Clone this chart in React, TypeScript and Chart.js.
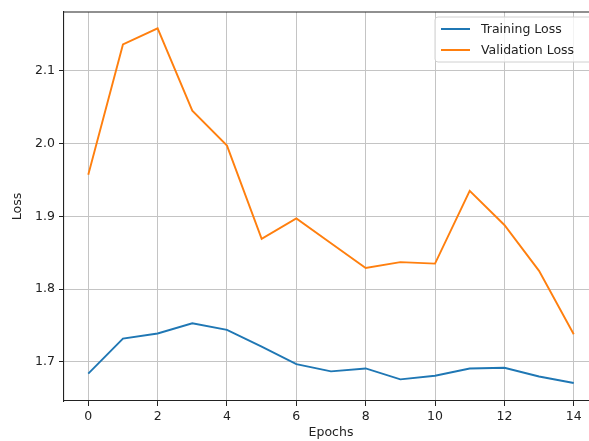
import React, { useEffect, useRef, useState } from "react";
import { Chart, registerables } from "chart.js";

Chart.register(...registerables);

const epochs = [0, 1, 2, 3, 4, 5, 6, 7, 8, 9, 10, 11, 12, 13, 14];
const trainingLoss = [1.684, 1.732, 1.739, 1.753, 1.744, 1.721, 1.697, 1.687, 1.691, 1.676, 1.681, 1.691, 1.692, 1.68, 1.671];
const validationLoss = [1.957, 2.136, 2.158, 2.045, 1.997, 1.869, 1.897, 1.863, 1.829, 1.837, 1.835, 1.935, 1.888, 1.825, 1.738];
const xTicks = [0, 2, 4, 6, 8, 10, 12, 14];
const yTicks = [1.7, 1.8, 1.9, 2.0, 2.1];

const W = 600;
const H = 445;
const FONT = "'DejaVu Sans', sans-serif";

const frameAndLegend = {
  id: "frameAndLegend",
  afterDatasetsDraw(chart: any) {
    const { ctx, chartArea } = chart;
    ctx.save();
    // top spine
    ctx.strokeStyle = "#222";
    ctx.lineWidth = 1.1;
    ctx.beginPath();
    ctx.moveTo(chartArea.left, chartArea.top);
    ctx.lineTo(chartArea.right, chartArea.top);
    ctx.stroke();
    // legend
    const bx = 435, by = 17, bw = 157, bh = 45;
    ctx.beginPath();
    if ((ctx as any).roundRect) (ctx as any).roundRect(bx, by, bw, bh, 3);
    else ctx.rect(bx, by, bw, bh);
    ctx.fillStyle = "rgba(255,255,255,0.8)";
    ctx.fill();
    ctx.strokeStyle = "#d0d0d0";
    ctx.lineWidth = 1;
    ctx.stroke();
    ctx.font = `12.5px ${FONT}`;
    ctx.textBaseline = "middle";
    ctx.textAlign = "left";
    chart.data.datasets.forEach((ds: any, i: number) => {
      const y = 29 + i * 21;
      ctx.strokeStyle = ds.borderColor;
      ctx.lineWidth = 2;
      ctx.beginPath();
      ctx.moveTo(441, y);
      ctx.lineTo(470, y);
      ctx.stroke();
      ctx.fillStyle = "#222";
      ctx.fillText(ds.label, 481, y + 1);
    });
    ctx.restore();
  },
};

export default function App() {
  const ref = useRef<HTMLCanvasElement>(null);
  useEffect(() => {
    if (!ref.current) return;
    const chart = new Chart(ref.current, {
      type: "line",
      data: {
        datasets: [
          {
            label: "Training Loss",
            data: epochs.map((e, i) => ({ x: e, y: trainingLoss[i] })),
            borderColor: "#1f77b4",
            backgroundColor: "#1f77b4",
            borderWidth: 1.9,
            pointRadius: 0,
            tension: 0,
          },
          {
            label: "Validation Loss",
            data: epochs.map((e, i) => ({ x: e, y: validationLoss[i] })),
            borderColor: "#ff7f0e",
            backgroundColor: "#ff7f0e",
            borderWidth: 1.9,
            pointRadius: 0,
            tension: 0,
          },
        ],
      },
      options: {
        animation: false,
        responsive: false,
        devicePixelRatio: 1,
        layout: { padding: { top: 12, right: 2, left: 0, bottom: 0 } },
        plugins: { legend: { display: false }, tooltip: { enabled: false } },
        scales: {
          x: {
            type: "linear",
            min: -0.7,
            max: 14.7,
            afterBuildTicks: (s: any) => {
              s.ticks = xTicks.map((v) => ({ value: v }));
            },
            afterFit: (s: any) => {
              s.height = 44;
            },
            grid: { color: "#c4c4c4", lineWidth: 1, drawTicks: true, tickLength: 5, tickColor: "#222", tickWidth: 1 },
            border: { display: true, color: "#222", width: 1.1 },
            ticks: { color: "#222", font: { family: FONT, size: 12.5 }, padding: 3, maxRotation: 0, callback: (v: any) => String(v) },
            title: { display: true, text: "Epochs", color: "#222", font: { family: FONT, size: 12.5 }, padding: { top: 0, bottom: 4.5 } },
          },
          y: {
            type: "linear",
            min: 1.6463,
            max: 2.1805,
            afterBuildTicks: (s: any) => {
              s.ticks = yTicks.map((v) => ({ value: v }));
            },
            afterFit: (s: any) => {
              s.width = 64;
            },
            grid: { color: "#c4c4c4", lineWidth: 1, drawTicks: true, tickLength: 5, tickColor: "#222", tickWidth: 1 },
            border: { display: true, color: "#222", width: 1.1 },
            ticks: { color: "#222", font: { family: FONT, size: 12.5 }, padding: 4, callback: (v: any) => Number(v).toFixed(1) },
            title: { display: true, text: "Loss", color: "#222", font: { family: FONT, size: 12.5 }, padding: { top: 10.5, bottom: 0 } },
          },
        },
      },
      plugins: [frameAndLegend],
    });
    return () => chart.destroy();
  }, []);
  return (
    <div style={{ position: "absolute", left: 0, top: 0, width: 589, height: 441, overflow: "hidden", background: "#fff" }}>
      <canvas ref={ref} width={W} height={H} style={{ width: W, height: H, display: "block" }} />
    </div>
  );
}
